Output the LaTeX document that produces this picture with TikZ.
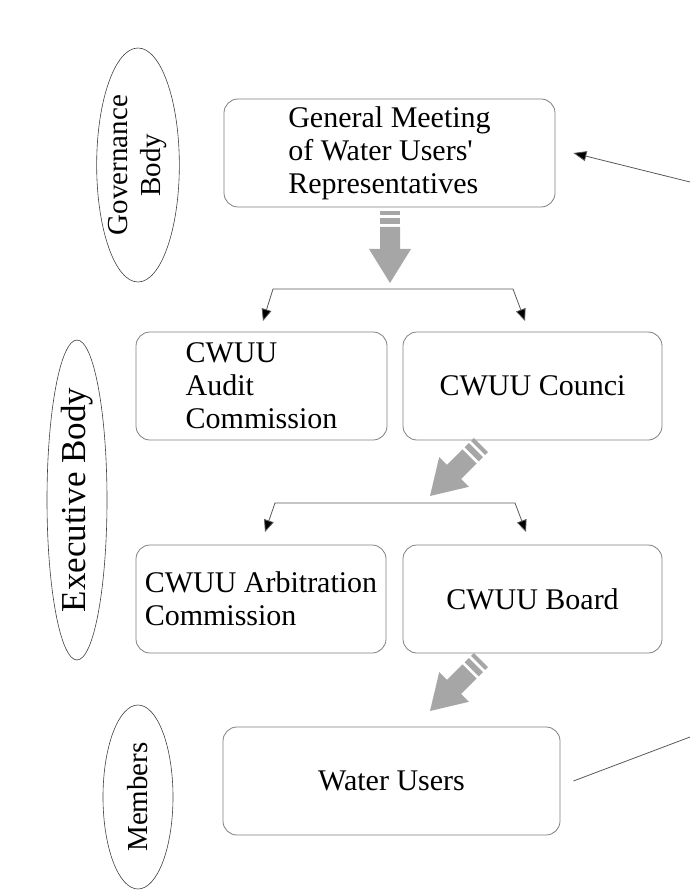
\documentclass[tikz,border=0pt]{standalone}
\usepackage{fontspec}
\setmainfont{Liberation Serif}
\usetikzlibrary{arrows.meta,shapes.geometric}
\definecolor{boxline}{HTML}{7F7F7F}
\definecolor{flowgray}{HTML}{A6A6A6}
\begin{document}
\begin{tikzpicture}[x=1pt,y=-1pt,
    every node/.style={font=\fontsize{29}{33}\selectfont},
    unit/.style={draw=boxline, line width=0.8pt, rounded corners=14pt, minimum height=108pt, inner sep=0pt, align=left, font=\fontsize{30}{33}\selectfont},
    body/.style={draw=black!75, line width=0.6pt, ellipse, inner sep=0pt, rotate=90, align=center},
    fork/.style={draw=black!65, line width=0.8pt, {Triangle[length=12pt,width=10pt,fill=black]}-{Triangle[length=12pt,width=10pt,fill=black]}},
    link/.style={draw=black!65, line width=0.8pt},
    flowarrow/.pic={
        \fill[flowgray] (0,0) -- (-21,-34) -- (-10,-34) -- (-10,-56) -- (10,-56) -- (10,-34) -- (21,-34) -- cycle;
        \fill[flowgray] (-10,-59) rectangle (10,-65);
        \fill[flowgray] (-10,-68) rectangle (10,-72);
    }]
\useasboundingbox (0,0) rectangle (690,890);

% bodies
\node[body, minimum width=234pt, minimum height=70pt] (gov) at (138,165) {Governance\\Body};
\node[body, minimum width=320pt, minimum height=60pt, font=\fontsize{35}{40}\selectfont] (exec) at (77,500) {Executive Body};
\node[body, minimum width=184pt, minimum height=70pt] (memb) at (138,797) {Members};

% units
\node[unit, minimum width=331pt] (meeting) at (389.5,153) {General Meeting\\of Water Users\textquotesingle\\Representatives};
\node[unit, minimum width=251pt] (audit) at (261.5,386) {CWUU\\Audit\\Commission};
\node[unit, minimum width=259pt] (council) at (532.5,386) {CWUU Counci};
\node[unit, minimum width=250pt] (arbit) at (261,599) {CWUU Arbitration\\Commission};
\node[unit, minimum width=259pt] (board) at (532.5,599) {CWUU Board};
\node[unit, minimum width=337pt] (users) at (391.5,781) {Water Users};

% flow
\pic at (390,283) {flowarrow};
\pic[rotate=-45] at (430,496) {flowarrow};
\pic[rotate=-45] at (430,711) {flowarrow};

\coordinate (f1a) at (263,321);
\coordinate (f1b) at (273,289);
\coordinate (f1c) at (513,289);
\coordinate (f1d) at (525,321);
\draw[fork] (f1a) -- (f1b) -- (f1c) -- (f1d);

\coordinate (f2a) at (265,532);
\coordinate (f2b) at (275,503);
\coordinate (f2c) at (515,503);
\coordinate (f2d) at (526,532);
\draw[fork] (f2a) -- (f2b) -- (f2c) -- (f2d);

% feedback
\coordinate (outa) at (690,182);
\coordinate (outb) at (690,737);
\draw[link, -{Triangle[length=13pt,width=10pt,fill=black]}] (outa) -- ([xshift=18]meeting.east);
\draw[link] ([xshift=13]users.east) -- (outb);
\end{tikzpicture}
\end{document}
